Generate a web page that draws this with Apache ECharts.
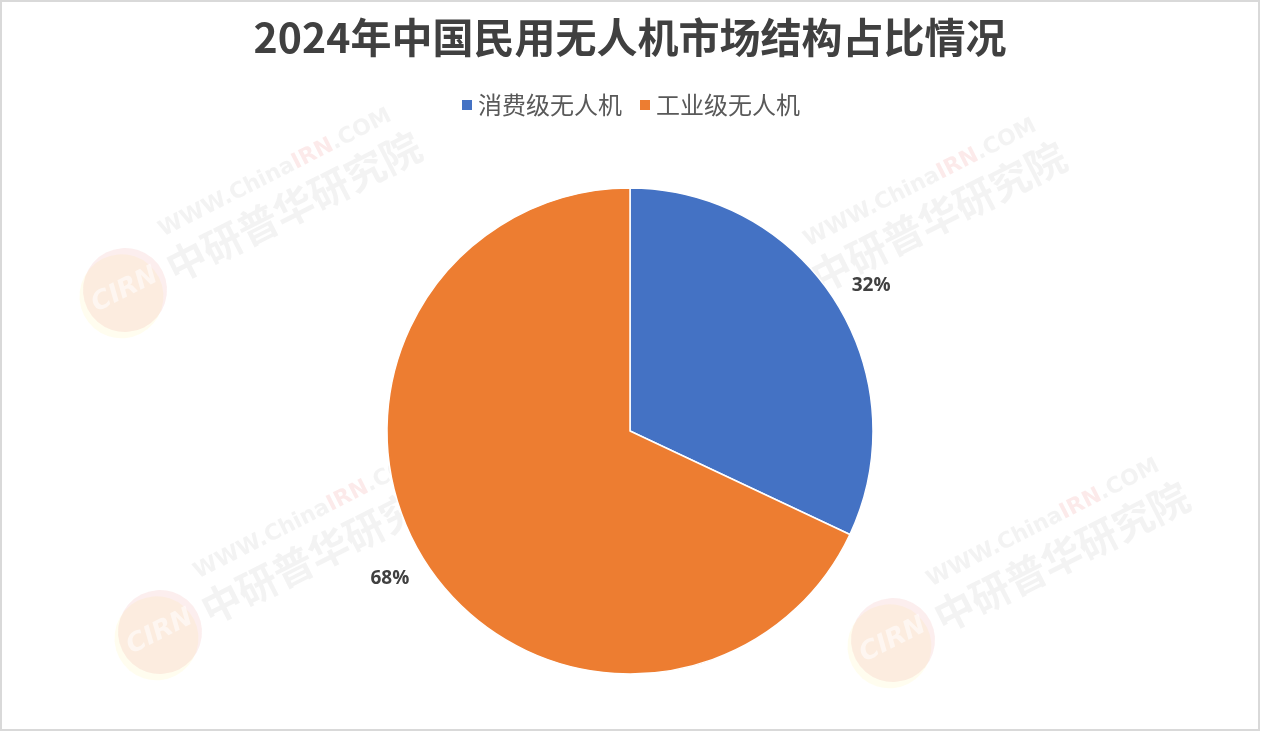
<!DOCTYPE html>
<html>
<head>
<meta charset="utf-8">
<script src="https://cdn.jsdelivr.net/npm/echarts@6/dist/echarts.min.js"></script>
<style>
html,body{margin:0;padding:0;background:#fff;}
#wrap{position:absolute;left:0;top:0;width:1256px;height:727px;border:2px solid #d9d9d9;background:#fff;}
#chart{width:1256px;height:727px;}
</style>
</head>
<body>
<div id="wrap"><div id="chart"></div></div>
<script>
const titleText = '2024年中国民用无人机市场结构占比情况';
const categories = ['消费级无人机', '工业级无人机'];
const values = [32, 68];
const colors = ['#4472C4', '#ED7D31'];

const chart = echarts.init(document.getElementById('chart'));

function watermark(x, y) {
  return {
    type: 'group', x: x, y: y, rotation: 0.47, silent: true, z: 100,
    children: [
      { type: 'circle', shape: { cx: -6, cy: 4, r: 42 }, style: { fill: 'rgba(255,235,120,0.12)' } },
      { type: 'circle', shape: { cx: 0, cy: 0, r: 42 }, style: { fill: 'rgba(225,90,90,0.10)' } },
      { type: 'text', x: 0, y: 0, style: { text: 'CIRN', fill: 'rgba(255,255,255,0.55)', font: 'italic bold 26px "DejaVu Sans"', align: 'center', verticalAlign: 'middle' } },
      { type: 'text', x: 48, y: 2, style: { text: '中研普华研究院', fill: 'rgba(120,120,120,0.09)', font: 'bold 40px "Noto Sans CJK SC"', verticalAlign: 'middle' } },
      { type: 'text', x: 58, y: -36, style: { text: 'WWW.China{r|IRN}.COM', fill: 'rgba(120,120,120,0.09)', font: 'bold 22px "DejaVu Sans"', verticalAlign: 'middle',
        rich: { r: { fill: 'rgba(230,90,90,0.13)', font: 'bold 22px "DejaVu Sans"' } } } }
    ]
  };
}

chart.setOption({
  animation: false,
  backgroundColor: '#fff',
  color: colors,
  title: {
    text: titleText,
    left: 'center',
    top: 10,
    textStyle: { fontSize: 41, fontWeight: 'bold', color: '#404040', fontFamily: '"Noto Sans CJK SC", "Open Sans", sans-serif' }
  },
  legend: {
    data: categories,
    top: 86,
    left: 'center',
    itemWidth: 12,
    itemHeight: 12,
    itemGap: 16,
    icon: 'rect',
    textStyle: { fontSize: 24, color: '#595959', fontFamily: '"Noto Sans CJK SC", sans-serif' }
  },
  graphic: [
    watermark(123, 288),
    watermark(768, 298),
    watermark(158, 630),
    watermark(891, 638)
  ],
  series: [{
    type: 'pie',
    center: [628, 429],
    radius: [0, 243],
    startAngle: 90,
    clockwise: true,
    itemStyle: { borderColor: '#fff', borderWidth: 1.5 },
    label: {
      show: true,
      position: 'outside',
      formatter: '{c}%',
      fontSize: 19,
      fontWeight: 'bold',
      color: '#404040',
      fontFamily: '"Open Sans", "Noto Sans", sans-serif'
    },
    labelLine: { show: false, length: 16, length2: 0 },
    labelLayout: function (p) {
      return p.dataIndex === 0 ? { dx: -2, dy: -7 } : { dx: 3, dy: 9 };
    },
    emphasis: { disabled: true },
    data: categories.map((c, i) => ({ name: c, value: values[i] }))
  }]
});
</script>
</body>
</html>
